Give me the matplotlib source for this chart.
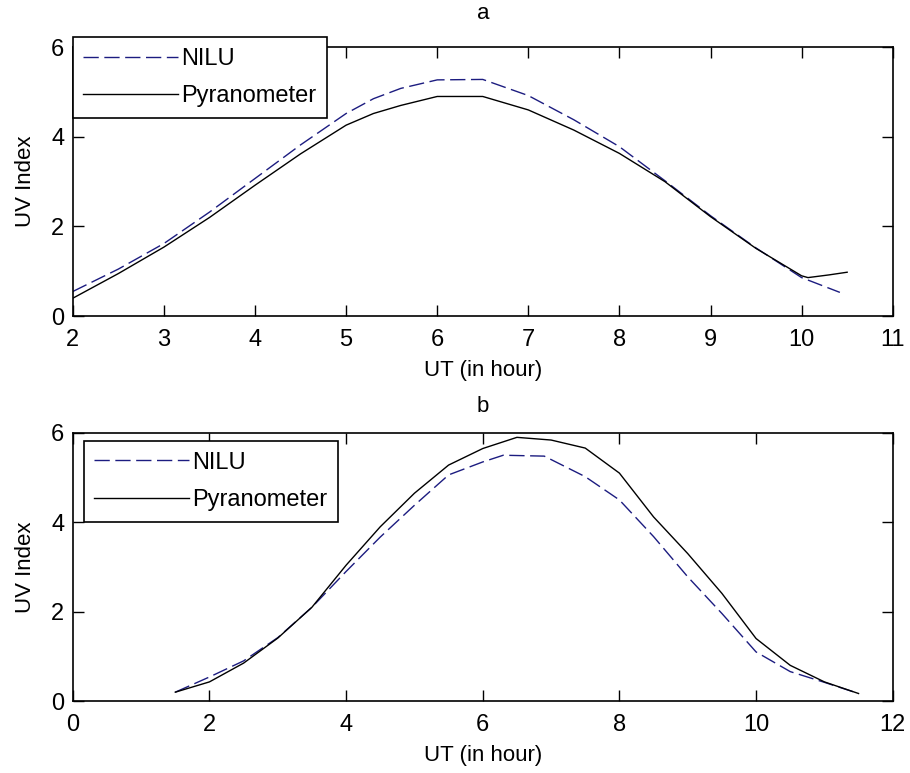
import matplotlib.pyplot as plt
import numpy as np

plt.rcParams['font.family'] = ['Liberation Sans', 'DejaVu Sans']

# panel a
xa_nilu = [2.0, 2.5, 3.0, 3.5, 4.0, 4.5, 5.0, 5.3, 5.6, 6.0, 6.5, 7.0, 7.5, 8.0, 8.5, 9.0, 9.5, 10.0, 10.42]
ya_nilu = [0.55, 1.05, 1.62, 2.32, 3.07, 3.82, 4.52, 4.85, 5.08, 5.27, 5.28, 4.92, 4.38, 3.78, 3.02, 2.24, 1.52, 0.86, 0.53]
xa_pyr = [2.0, 2.5, 3.0, 3.5, 4.0, 4.5, 5.0, 5.3, 5.6, 6.0, 6.5, 7.0, 7.5, 8.0, 8.5, 9.0, 9.5, 10.0, 10.07, 10.3, 10.5]
ya_pyr = [0.40, 0.95, 1.54, 2.20, 2.92, 3.62, 4.26, 4.52, 4.70, 4.90, 4.90, 4.60, 4.15, 3.63, 3.00, 2.22, 1.51, 0.90, 0.86, 0.92, 0.98]

# panel b
xb_nilu = [1.5, 2.0, 2.5, 3.0, 3.5, 4.0, 4.5, 5.0, 5.5, 6.0, 6.3, 6.9, 7.5, 8.0, 8.5, 9.0, 9.5, 10.0, 10.5, 11.0, 11.5]
yb_nilu = [0.20, 0.54, 0.90, 1.42, 2.10, 2.90, 3.67, 4.38, 5.06, 5.35, 5.50, 5.48, 5.02, 4.50, 3.68, 2.78, 1.96, 1.10, 0.66, 0.42, 0.17]
xb_pyr = [1.5, 2.0, 2.5, 3.0, 3.5, 4.0, 4.5, 5.0, 5.5, 6.0, 6.5, 7.0, 7.5, 8.0, 8.5, 9.0, 9.5, 10.0, 10.5, 11.0, 11.5]
yb_pyr = [0.20, 0.43, 0.85, 1.41, 2.10, 3.04, 3.90, 4.65, 5.28, 5.65, 5.90, 5.84, 5.66, 5.10, 4.12, 3.30, 2.41, 1.40, 0.80, 0.43, 0.17]

nilu_color = '#1c1c80'

fig = plt.figure(figsize=(9.1, 7.73), dpi=100)
ax1 = fig.add_axes([0.080, 0.591, 0.901, 0.348])
ax2 = fig.add_axes([0.080, 0.093, 0.901, 0.347])


def style(ax):
    ax.tick_params(direction='in', top=True, right=True, length=8, width=1,
                   labelsize=17)
    ax.tick_params(axis='x', pad=9)
    ax.tick_params(axis='y', pad=6)
    for s in ax.spines.values():
        s.set_linewidth(1.2)


ax1.plot(xa_nilu, ya_nilu, '--', color=nilu_color, lw=1.0, dashes=(11, 4), label='NILU')
ax1.plot(xa_pyr, ya_pyr, '-', color='black', lw=1.0, label='Pyranometer')
ax1.set_xlim(2, 11)
ax1.set_ylim(0, 6)
ax1.set_xticks(np.arange(2, 12, 1))
ax1.set_yticks([0, 2, 4, 6])
ax1.set_title('a', fontsize=16, pad=20)
ax1.set_xlabel('UT (in hour)', fontsize=16, labelpad=7)
ax1.set_ylabel('UV Index', fontsize=16, labelpad=11)
style(ax1)

ax2.plot(xb_nilu, yb_nilu, '--', color=nilu_color, lw=1.0, dashes=(11, 4), label='NILU')
ax2.plot(xb_pyr, yb_pyr, '-', color='black', lw=1.0, label='Pyranometer')
ax2.set_xlim(0, 12)
ax2.set_ylim(0, 6)
ax2.set_xticks(np.arange(0, 13, 2))
ax2.set_yticks([0, 2, 4, 6])
ax2.set_title('b', fontsize=16, pad=15)
ax2.set_xlabel('UT (in hour)', fontsize=16, labelpad=7)
ax2.set_ylabel('UV Index', fontsize=16, labelpad=11)
style(ax2)

for ax, anchor in [(ax1, (0.0, 1.037)), (ax2, (0.0134, 0.970))]:
    leg = ax.legend(loc='upper left', bbox_to_anchor=anchor, borderaxespad=0,
                    fontsize=17, fancybox=False, framealpha=1, edgecolor='black',
                    handlelength=4.0, handletextpad=0.15, borderpad=0.45,
                    labelspacing=0.65)
    leg.get_frame().set_linewidth(1.2)

fig.savefig('out.png', dpi=100)
